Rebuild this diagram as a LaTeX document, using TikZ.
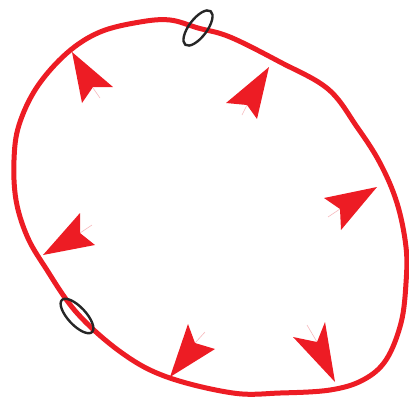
\documentclass[tikz,border=0pt]{standalone}
\definecolor{myred}{HTML}{ED1C24}
\definecolor{tailpink}{HTML}{F6B8BC}
\tikzset{
  loopline/.style={draw=myred, line width=5pt, line join=round},
  ring/.style={draw=black!85, line width=2.4pt},
  headfill/.style={fill=myred},
  tailline/.style={draw=tailpink, line width=0.6pt},
}
\begin{document}
\begin{tikzpicture}[x=1pt,y=-1pt]
\useasboundingbox (0,0) rectangle (409,400);
\draw[loopline] plot[smooth cycle, tension=0.6] coordinates {
(140,22) (170,20) (198,28) (230,37) (280,62) (328,89) (357,127) (380,163)
(397,203) (406,247) (406,283) (401,323) (386,360) (363,380) (330,390)
(280,393) (233,393) (167,377) (122,353) (77,313) (45,267) (27,236)
(16,200) (14,160) (19,125) (37,87) (67,53) (100,32)};
% ellipses
\draw[ring, rotate around={53:(198,28)}] (198,28) ellipse [x radius=21, y radius=9];
\draw[ring, rotate around={-47:(77,316)}] (77,316) ellipse [x radius=22, y radius=9];
% arrowheads: tip, wing, notch, wing
\draw[tailline] (93,88) -- (100,98);
\fill[headfill] (72,52) -- (113,87) -- (93,87) -- (82,103) -- cycle;
\draw[tailline] (247,105) -- (242,115);
\fill[headfill] (269,67) -- (257,119) -- (247,105) -- (226,103) -- cycle;
\draw[tailline] (340,209) -- (328,217);
\fill[headfill] (377,187) -- (341,230) -- (340,209) -- (324,198) -- cycle;
\draw[tailline] (80,233) -- (92,225);
\fill[headfill] (43,255) -- (80,213) -- (80,233) -- (95,245) -- cycle;
\draw[tailline] (195,343) -- (205,332);
\fill[headfill] (170,377) -- (188,324) -- (195,343) -- (215,349) -- cycle;
\draw[tailline] (317,342) -- (307,325);
\fill[headfill] (335,382) -- (293,337) -- (317,342) -- (325,322) -- cycle;
\end{tikzpicture}
\end{document}
